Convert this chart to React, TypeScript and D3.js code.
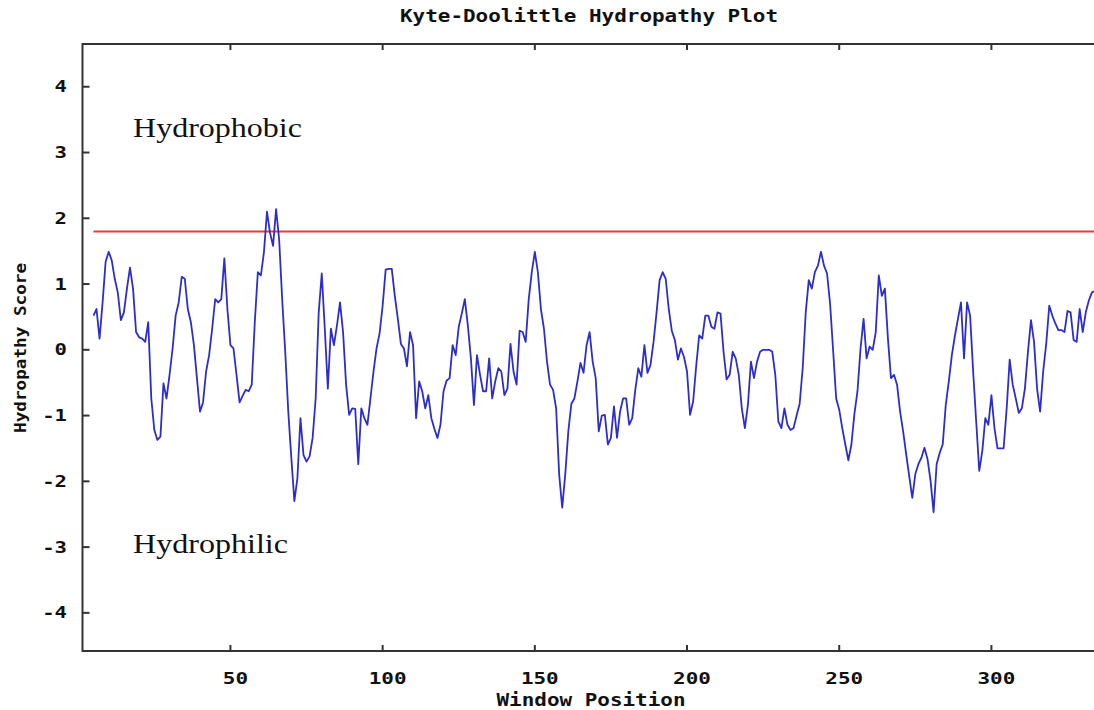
import React, { useRef, useEffect } from "react";
import * as d3 from "d3";

/* window positions start at 5 (window size 9) */
const firstPosition = 5;

/* Kyte-Doolittle scores, one per window position */
const scores = [
  0.52, 0.62, 0.17, 0.72, 1.34, 1.49, 1.36, 1.08, 0.87, 0.45,
  0.57, 0.93, 1.25, 0.93, 0.27, 0.19, 0.17, 0.12, 0.42, -0.74,
  -1.22, -1.37, -1.32, -0.51, -0.74, -0.38, 0.02, 0.52, 0.72, 1.11,
  1.08, 0.62, 0.42, 0.07, -0.43, -0.94, -0.8, -0.33, -0.08, 0.32,
  0.77, 0.72, 0.77, 1.39, 0.62, 0.07, 0.02, -0.38, -0.8, -0.7,
  -0.61, -0.63, -0.53, 0.42, 1.18, 1.13, 1.48, 2.1, 1.78, 1.58,
  2.14, 1.68, 0.77, -0.03, -0.94, -1.64, -2.3, -1.95, -1.04, -1.6,
  -1.7, -1.62, -1.34, -0.74, 0.57, 1.16, 0.32, -0.59, 0.32, 0.07,
  0.37, 0.72, 0.27, -0.53, -0.99, -0.89, -0.9, -1.74, -0.89, -1.04,
  -1.14, -0.74, -0.33, 0.02, 0.25, 0.67, 1.22, 1.23, 1.23, 0.82,
  0.47, 0.09, 0.02, -0.25, 0.27, 0.07, -1.04, -0.48, -0.63, -0.89,
  -0.69, -1.04, -1.2, -1.34, -1.14, -0.63, -0.47, -0.43, 0.07, -0.08,
  0.35, 0.55, 0.77, 0.37, -0.13, -0.84, -0.08, -0.38, -0.63, -0.63,
  -0.13, -0.74, -0.48, -0.28, -0.33, -0.69, -0.59, 0.09, -0.33, -0.53,
  0.29, 0.27, 0.12, 0.77, 1.18, 1.49, 1.18, 0.62, 0.32, -0.18,
  -0.53, -0.61, -0.89, -1.9, -2.4, -1.89, -1.24, -0.82, -0.74, -0.48,
  -0.2, -0.35, 0.07, 0.27, -0.18, -0.43, -1.24, -1.0, -0.99, -1.44,
  -1.34, -0.86, -1.34, -0.94, -0.74, -0.74, -1.14, -1.04, -0.61, -0.28,
  -0.41, 0.07, -0.35, -0.23, 0.12, 0.57, 1.06, 1.18, 1.08, 0.62,
  0.29, 0.15, -0.15, 0.02, -0.11, -0.33, -0.99, -0.79, -0.25, 0.22,
  0.17, 0.52, 0.52, 0.35, 0.32, 0.57, 0.55, -0.03, -0.45, -0.38,
  -0.03, -0.13, -0.38, -0.89, -1.19, -0.84, -0.18, -0.43, -0.18, -0.03,
  0.0, 0.0, 0.0, -0.03, -0.38, -1.09, -1.19, -0.89, -1.14, -1.22,
  -1.19, -1.0, -0.82, -0.28, 0.57, 1.06, 0.93, 1.18, 1.28, 1.49,
  1.28, 1.16, 0.7, -0.01, -0.74, -0.91, -1.19, -1.44, -1.68, -1.44,
  -0.97, -0.63, 0.02, 0.47, -0.13, 0.05, 0.0, 0.27, 1.13, 0.82,
  0.93, 0.17, -0.43, -0.38, -0.53, -0.94, -1.24, -1.59, -1.92, -2.25,
  -1.89, -1.74, -1.64, -1.49, -1.66, -1.99, -2.47, -1.74, -1.57, -1.44,
  -0.84, -0.48, -0.08, 0.21, 0.47, 0.72, -0.13, 0.72, 0.52, -0.33,
  -1.09, -1.84, -1.54, -1.04, -1.14, -0.69, -1.19, -1.5, -1.5, -1.5,
  -0.9, -0.15, -0.53, -0.74, -0.96, -0.89, -0.59, -0.03, 0.45, 0.12,
  -0.59, -0.94, -0.33, 0.09, 0.67, 0.52, 0.4, 0.3, 0.3, 0.27,
  0.59, 0.57, 0.15, 0.12, 0.62, 0.27, 0.57, 0.75, 0.87, 0.9,
];

const xTicks = [50, 100, 150, 200, 250, 300];
const yTicks = [-4, -3, -2, -1, 0, 1, 2, 3, 4];
const threshold = 1.8;

const HydropathyPlot = () => {
  const svgRef = useRef(null);

  const drawPlot = () => {
    const svg = d3.select(svgRef.current);
    svg.selectAll("*").remove();

    const left = 82.5;
    const top = 44;
    const bottom = 651;
    const right = 1094;

    /* scales: calibrated so 50 sits at 230.5px, 0 at 348px */
    const xScale = d3.scaleLinear().domain([1.4, 333.7]).range([left, right]);
    const yScale = d3.scaleLinear().domain([-4.58, 4.65]).range([bottom, top]);

    const axisColor = "#333";
    const mono = "'DejaVu Sans Mono', monospace";

    svg
      .append("defs")
      .append("clipPath")
      .attr("id", "plot-clip")
      .append("rect")
      .attr("x", left)
      .attr("y", top)
      .attr("width", right - left)
      .attr("height", bottom - top);

    /* frame */
    svg
      .append("path")
      .attr("d", `M${right + 5},${top}H${left}V${bottom}H${right + 5}`)
      .attr("fill", "none")
      .attr("stroke", axisColor)
      .attr("stroke-width", 2);

    /* y ticks, inward */
    svg
      .append("g")
      .selectAll("line")
      .data(yTicks)
      .enter()
      .append("line")
      .attr("x1", left)
      .attr("x2", left + 7)
      .attr("y1", (d) => yScale(d))
      .attr("y2", (d) => yScale(d))
      .attr("stroke", axisColor)
      .attr("stroke-width", 2);

    svg
      .append("g")
      .selectAll("text")
      .data(yTicks)
      .enter()
      .append("text")
      .attr("x", 67)
      .attr("y", (d) => yScale(d) + 5.5)
      .attr("text-anchor", "end")
      .attr("font-family", mono)
      .attr("font-weight", "bold")
      .attr("font-size", 15)
      .attr("textLength", (d) => String(d).length * 12.4)
      .attr("lengthAdjust", "spacingAndGlyphs")
      .attr("fill", "#111")
      .text((d) => String(d));

    /* x ticks on bottom and top, inward */
    const xt = svg.append("g");
    xTicks.forEach((t) => {
      xt.append("line")
        .attr("x1", xScale(t))
        .attr("x2", xScale(t))
        .attr("y1", bottom)
        .attr("y2", bottom - 6)
        .attr("stroke", axisColor)
        .attr("stroke-width", 2);
      xt.append("line")
        .attr("x1", xScale(t))
        .attr("x2", xScale(t))
        .attr("y1", top)
        .attr("y2", top + 6)
        .attr("stroke", axisColor)
        .attr("stroke-width", 2);
    });

    svg
      .append("g")
      .selectAll("text")
      .data(xTicks)
      .enter()
      .append("text")
      .attr("x", (d) => xScale(d) + 5)
      .attr("y", 684)
      .attr("text-anchor", "middle")
      .attr("font-family", mono)
      .attr("font-weight", "bold")
      .attr("font-size", 15)
      .attr("textLength", (d) => String(d).length * 12.6)
      .attr("lengthAdjust", "spacingAndGlyphs")
      .attr("fill", "#111")
      .text((d) => String(d));

    /* threshold line */
    svg
      .append("line")
      .attr("x1", xScale(firstPosition))
      .attr("x2", right)
      .attr("y1", yScale(threshold))
      .attr("y2", yScale(threshold))
      .attr("stroke", "#f03a3a")
      .attr("stroke-width", 2);

    /* hydropathy line */
    const line = d3
      .line()
      .x((d, i) => xScale(firstPosition + i))
      .y((d) => yScale(d));

    svg
      .append("path")
      .datum(scores)
      .attr("clip-path", "url(#plot-clip)")
      .attr("d", line)
      .attr("fill", "none")
      .attr("stroke", "#2d2dcf")
      .attr("stroke-width", 1.8)
      .attr("stroke-linejoin", "round");

    /* titles */
    svg
      .append("text")
      .attr("x", 589)
      .attr("y", 22)
      .attr("text-anchor", "middle")
      .attr("font-family", mono)
      .attr("font-weight", "bold")
      .attr("font-size", 17)
      .attr("textLength", 378)
      .attr("lengthAdjust", "spacingAndGlyphs")
      .attr("fill", "#111")
      .text("Kyte-Doolittle Hydropathy Plot");

    svg
      .append("text")
      .attr("x", 591)
      .attr("y", 706)
      .attr("text-anchor", "middle")
      .attr("font-family", mono)
      .attr("font-weight", "bold")
      .attr("font-size", 17)
      .attr("textLength", 189)
      .attr("lengthAdjust", "spacingAndGlyphs")
      .attr("fill", "#111")
      .text("Window Position");

    svg
      .append("text")
      .attr("transform", "translate(26, 348) rotate(-90)")
      .attr("text-anchor", "middle")
      .attr("font-family", mono)
      .attr("font-weight", "bold")
      .attr("font-size", 16)
      .attr("textLength", 170)
      .attr("lengthAdjust", "spacingAndGlyphs")
      .attr("fill", "#111")
      .text("Hydropathy Score");

    /* region labels */
    const serif = "'Liberation Serif', 'Times New Roman', serif";
    svg
      .append("text")
      .attr("x", 133)
      .attr("y", 137)
      .attr("font-family", serif)
      .attr("font-size", 28)
      .attr("textLength", 169)
      .attr("lengthAdjust", "spacingAndGlyphs")
      .attr("fill", "#111")
      .text("Hydrophobic");

    svg
      .append("text")
      .attr("x", 133)
      .attr("y", 553)
      .attr("font-family", serif)
      .attr("font-size", 28)
      .attr("textLength", 155)
      .attr("lengthAdjust", "spacingAndGlyphs")
      .attr("fill", "#111")
      .text("Hydrophilic");
  };

  useEffect(() => {
    drawPlot();
  }, []);

  return (
    <svg
      ref={svgRef}
      width={1094}
      height={710}
      style={{ position: "absolute", left: 0, top: 0, background: "#fff" }}
    ></svg>
  );
};

export default function App() {
  return <HydropathyPlot />;
}
